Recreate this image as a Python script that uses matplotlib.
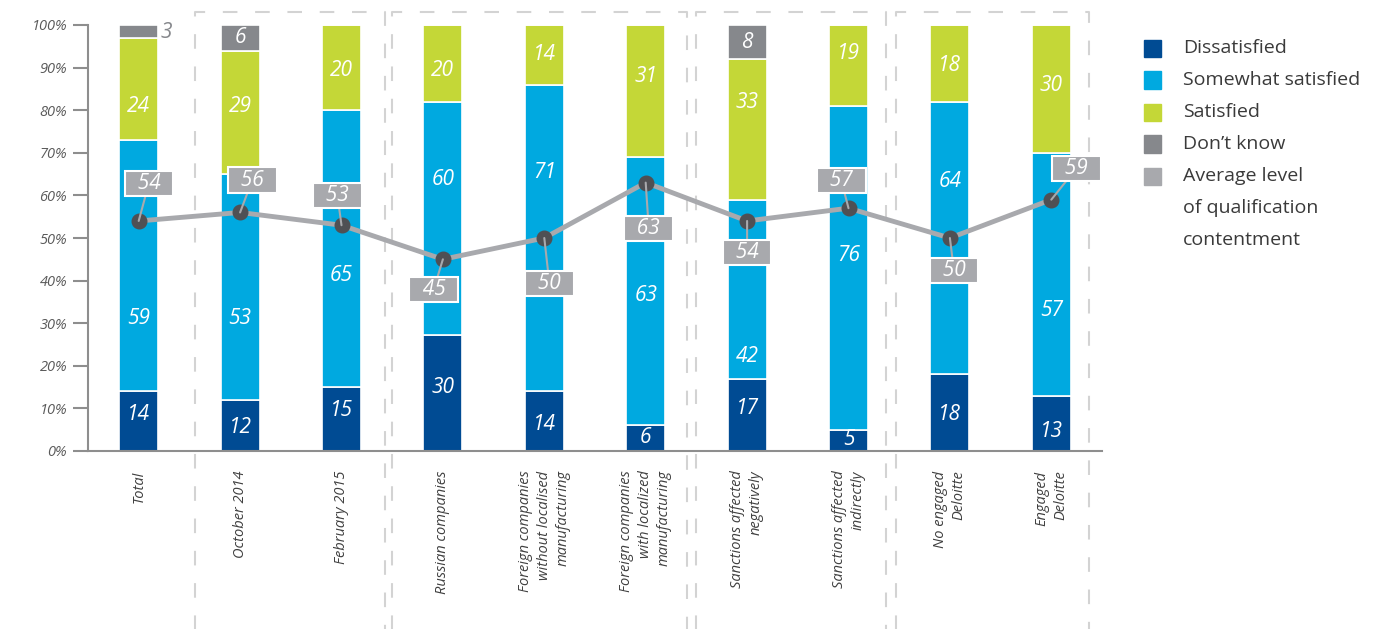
import matplotlib
matplotlib.use("Agg")
import matplotlib.pyplot as plt
import numpy as np
from matplotlib.lines import Line2D
from matplotlib.patches import Rectangle
from matplotlib.transforms import blended_transform_factory

plt.rcParams["font.family"] = ["Open Sans", "DejaVu Sans"]

# Survey results, % of respondents
categories = [
    "Total",
    "October 2014",
    "February 2015",
    "Russian companies",
    "Foreign companies\nwithout localised\nmanufacturing",
    "Foreign companies\nwith localized\nmanufacturing",
    "Sanctions affected\nnegatively",
    "Sanctions affected\nindirectly",
    "No engaged\nDeloitte",
    "Engaged\nDeloitte",
]
dissatisfied = [14, 12, 15, 30, 14, 6, 17, 5, 18, 13]
somewhat_satisfied = [59, 53, 65, 60, 71, 63, 42, 76, 64, 57]
satisfied = [24, 29, 20, 20, 14, 31, 33, 19, 18, 30]
dont_know = [3, 6, 0, 0, 0, 0, 8, 0, 0, 0]
average_level = [54, 56, 53, 45, 50, 63, 54, 57, 50, 59]

legend_labels = ["Dissatisfied", "Somewhat satisfied", "Satisfied", "Don\u2019t know",
                 "Average level\nof qualification\ncontentment"]

# dashed frames around groups of columns (left / right edge, in bar units)
frame_left = [0.56, 2.50, 5.50, 7.47]
frame_right = [2.43, 5.41, 7.37, 9.37]

# colours
C_DARK = "#004b93"
C_BLUE = "#00a9e0"
C_GREEN = "#c4d737"
C_GREY = "#86888c"
C_LIGHT = "#a8a9ad"
C_MARKER = "#4f5054"

# where the value labels sit inside each segment (y, in %)
label_y_dark = [8.5, 5.4, 9.6, 15.0, 6.2, 3.2, 10.0, 2.7, 8.5, 4.5]
label_y_blue = [31.2, 31.2, 41.3, 63.8, 65.3, 36.5, 22.3, 46.0, 63.2, 33.0]
label_y_green = [80.9, 80.9, 89.4, 89.4, 93.1, 88.0, 81.7, 93.2, 90.4, 85.9]
label_y_grey = [98.3, 97.0, 0, 0, 0, 0, 96.0, 0, 0, 0]
# callout boxes for the average line (x offset, y)
callout_dx = [0.10, 0.12, -0.04, -0.09, 0.05, 0.03, 0.0, -0.07, 0.04, 0.25]
callout_y = [62.8, 63.6, 59.9, 38.0, 39.4, 52.3, 46.5, 63.4, 42.3, 66.4]

x = np.arange(len(categories))
series = [dissatisfied, somewhat_satisfied, satisfied, dont_know]
totals = np.sum(series, axis=0)
shares = [np.array(s) / totals * 100 for s in series]

fig = plt.figure(figsize=(13.96, 6.29), dpi=100)
ax = fig.add_axes([88 / 1396, 1 - 451 / 629, (1102 - 88) / 1396, 426 / 629])

bottom = np.zeros(len(x))
for share, color in zip(shares, [C_DARK, C_BLUE, C_GREEN, C_GREY]):
    ax.bar(x, share, bottom=bottom, width=0.385, color=color,
           edgecolor="white", linewidth=1.2, zorder=2)
    bottom += share

text_kw = dict(ha="center", va="center", color="white", fontsize=15,
               fontstyle="italic", zorder=5)
for i in x:
    ax.text(i, label_y_dark[i], str(dissatisfied[i]), **text_kw)
    ax.text(i, label_y_blue[i], str(somewhat_satisfied[i]), **text_kw)
    ax.text(i, label_y_green[i], str(satisfied[i]), **text_kw)
    if dont_know[i]:
        if i == 0:
            ax.text(i + 0.22, label_y_grey[i], str(dont_know[i]), ha="left",
                    va="center", color=C_GREY, fontsize=15, fontstyle="italic")
        else:
            ax.text(i, label_y_grey[i], str(dont_know[i]), **text_kw)

# average level of qualification contentment
ax.plot(x, average_level, color=C_LIGHT, lw=3.5, zorder=3, solid_capstyle="round")
ax.plot(x, average_level, "o", color=C_MARKER, ms=10.5, zorder=4)
for i in x:
    ax.annotate(f"  {average_level[i]}  ", xy=(i, average_level[i]),
                xytext=(i + callout_dx[i], callout_y[i]),
                ha="center", va="center", color="white", fontsize=15,
                fontstyle="italic", zorder=6,
                bbox=dict(boxstyle="square,pad=0.1", fc=C_LIGHT, ec="white", lw=1.5),
                arrowprops=dict(arrowstyle="-", color=C_LIGHT, lw=1.5,
                                shrinkA=0, shrinkB=0))

# dashed group frames
trans = blended_transform_factory(ax.transData, ax.transAxes)
box_top = (451 - 12) / 426
box_bottom = (451 - 640) / 426
dash_kw = dict(color="#d3d3d3", lw=1.5, linestyle=(0, (7, 8.5)), transform=trans,
               clip_on=False, zorder=0)
for l, r in zip(frame_left, frame_right):
    ax.add_line(Line2D([l, l, r, r], [box_bottom, box_top, box_top, box_bottom], **dash_kw))

ax.set_xlim(-0.5, 9.5)
ax.set_ylim(0, 100)
ax.set_yticks(range(0, 101, 10))
ax.set_yticklabels([f"{v}%" for v in range(0, 101, 10)], fontstyle="italic",
                   fontsize=10.5, color="#5a5a5a")
ax.set_xticks(x)
ax.set_xticklabels(categories, rotation=90, fontstyle="italic", fontsize=10.5,
                   color="#404040", multialignment="right", linespacing=1.35)
ax.tick_params(axis="y", length=11, width=1.5, color="#8e8e8e", pad=4)
ax.tick_params(axis="x", length=0, pad=14)
for side in ["top", "right"]:
    ax.spines[side].set_visible(False)
for side in ["left", "bottom"]:
    ax.spines[side].set_color("#8e8e8e")
    ax.spines[side].set_linewidth(1.5)

# legend
W, H = 1396, 629
legend_colors = [C_DARK, C_BLUE, C_GREEN, C_GREY, C_LIGHT]
row = 0
for label, color in zip(legend_labels, legend_colors):
    yc = 48 + 32 * row
    fig.patches.append(Rectangle((1144 / W, 1 - (yc + 8.5) / H), 17 / W, 17 / H,
                                 transform=fig.transFigure, color=color))
    for line in label.split("\n"):
        fig.text(1183 / W, 1 - (48 + 32 * row) / H, line, ha="left", va="center",
                 fontsize=14, color="#3a3a3a")
        row += 1

fig.savefig("out.png", dpi=100)
